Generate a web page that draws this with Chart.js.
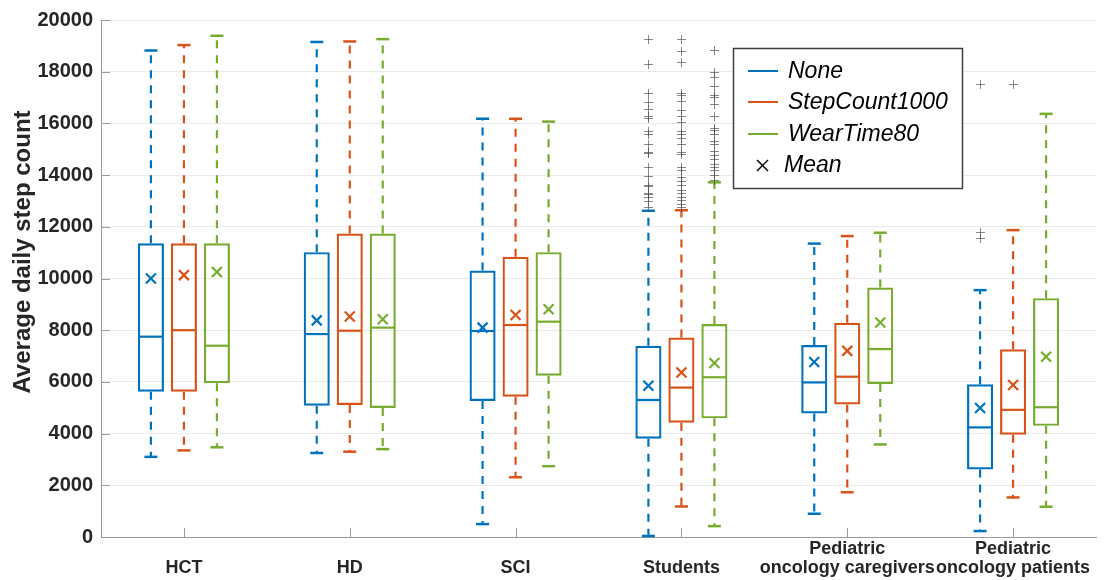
<!DOCTYPE html>
<html>
<head>
<meta charset="utf-8">
<title>Average daily step count by cohort</title>
<script src="https://cdn.jsdelivr.net/npm/chart.js@4.4.1/dist/chart.umd.min.js"></script>
<style>
  html, body { margin: 0; padding: 0; background: #ffffff; }
  #wrap { width: 1108px; height: 580px; }
</style>
</head>
<body>
<div id="wrap"><canvas id="chart" width="1108" height="580"></canvas></div>
<script>
// Cohorts on the x axis (two-line labels are bottom aligned)
const categories = [
  ['', 'HCT'],
  ['', 'HD'],
  ['', 'SCI'],
  ['', 'Students'],
  ['Pediatric', 'oncology caregivers'],
  ['Pediatric', 'oncology patients']
];
const seriesNames = ['None', 'StepCount1000', 'WearTime80'];
const yTicks = [0, 2000, 4000, 6000, 8000, 10000, 12000, 14000, 16000, 18000, 20000];
const yTitle = 'Average daily step count';

// None filter
const noneLow    = [3100, 3250, 500, 40, 900, 230];
const noneQ1     = [5620, 5080, 5260, 3800, 4780, 2610];
const noneMedian = [7750, 7850, 7970, 5300, 5980, 4240];
const noneQ3     = [11360, 11020, 10310, 7400, 7430, 5910];
const noneHigh   = [18820, 19150, 16180, 12620, 11350, 9550];
const noneMean   = [10000, 8380, 8100, 5850, 6770, 4990];
const noneOutliers = [[], [], [],
  [19250, 18290, 17160, 16820, 16560, 16290, 16200, 15710, 15600, 15200, 14900, 14850,
   14310, 13950, 13620, 13570, 13310, 13250, 13160, 12980, 12780],
  [], [17530, 11790, 11570]];

// StepCount1000 filter
const stepLow    = [3350, 3300, 2310, 1180, 1730, 1530];
const stepQ1     = [5620, 5110, 5430, 4420, 5130, 3960];
const stepMedian = [8000, 7980, 8200, 5780, 6200, 4920];
const stepQ3     = [11360, 11740, 10840, 7720, 8290, 7260];
const stepHigh   = [19030, 19170, 16180, 12640, 11640, 11870];
const stepMean   = [10130, 8530, 8590, 6360, 7200, 5880];
const stepOutliers = [[], [], [],
  [19250, 18800, 18380, 17160, 17100, 16880, 16520, 16300, 16050, 15710, 15600, 15430,
   15200, 14900, 14810, 14310, 14210, 13920, 13760, 13620, 13440, 13310, 13160, 13030,
   12890, 12770],
  [], [17530]];

// WearTime80 filter
const wearLow    = [3470, 3400, 2740, 420, 3580, 1170];
const wearQ1     = [5950, 4990, 6240, 4590, 5920, 4300];
const wearMedian = [7400, 8100, 8330, 6180, 7270, 5020];
const wearQ3     = [11360, 11740, 11020, 8240, 9650, 9240];
const wearHigh   = [19390, 19260, 16070, 13720, 11770, 16370];
const wearMean   = [10250, 8420, 8810, 6730, 8300, 6970];
const wearOutliers = [[], [], [],
  [18830, 18000, 17810, 17460, 17100, 17010, 16750, 16290, 15840, 15730, 15600, 15330,
   15200, 14920, 14790, 14630, 14440, 14310, 14180, 13990, 13800],
  [], []];

const colors = ['#0072BD', '#D95319', '#77AC30'];
const FONT = "'Liberation Sans', Arial, Helvetica, sans-serif";
const TEXT = '#262626';
const AXIS = '#9a9a9a';

const series = [
  { low: noneLow, q1: noneQ1, med: noneMedian, q3: noneQ3, high: noneHigh, mean: noneMean, out: noneOutliers },
  { low: stepLow, q1: stepQ1, med: stepMedian, q3: stepQ3, high: stepHigh, mean: stepMean, out: stepOutliers },
  { low: wearLow, q1: wearQ1, med: wearMedian, q3: wearQ3, high: wearHigh, mean: wearMean, out: wearOutliers }
];

function seg(ctx, x1, y1, x2, y2) {
  ctx.beginPath(); ctx.moveTo(x1, y1); ctx.lineTo(x2, y2); ctx.stroke();
}

// Inward tick marks on both axes, plus the rotated y-axis title
const axisTicks = {
  id: 'axisTicks',
  afterDraw(chart) {
    const { ctx, chartArea: a, scales: { x, y } } = chart;
    ctx.save();
    ctx.strokeStyle = AXIS; ctx.lineWidth = 1;
    yTicks.forEach(v => {
      const py = Math.round(y.getPixelForValue(v)) + 0.5;
      seg(ctx, a.left, py, a.left + 9, py);
    });
    categories.forEach((c, i) => {
      const px = Math.round(x.getPixelForValue(i)) + 0.5;
      seg(ctx, px, a.bottom, px, a.bottom - 9);
    });
    ctx.translate(23, 252);
    ctx.rotate(-Math.PI / 2);
    ctx.font = 'bold 24px ' + FONT;
    ctx.fillStyle = TEXT;
    ctx.textAlign = 'center';
    ctx.textBaseline = 'middle';
    ctx.fillText(yTitle, 0, 0);
    ctx.restore();
  }
};

// Whiskers, medians, means and outliers on top of the box bars
const boxDetails = {
  id: 'boxDetails',
  afterDatasetsDraw(chart) {
    const { ctx, scales: { y } } = chart;
    series.forEach((s, d) => {
      const meta = chart.getDatasetMeta(d);
      meta.data.forEach((bar, i) => {
        const x = bar.x, w = bar.width;
        const py = v => y.getPixelForValue(v);
        ctx.save();
        ctx.strokeStyle = colors[d];
        ctx.lineWidth = 2.2;
        ctx.setLineDash([8, 7]);
        seg(ctx, x, py(s.q3[i]), x, py(s.high[i]));
        seg(ctx, x, py(s.q1[i]), x, py(s.low[i]));
        ctx.setLineDash([]);
        ctx.lineWidth = 2.5;
        seg(ctx, x - 6.5, py(s.high[i]), x + 6.5, py(s.high[i]));
        seg(ctx, x - 6.5, py(s.low[i]), x + 6.5, py(s.low[i]));
        ctx.lineWidth = 2.2;
        seg(ctx, x - w / 2 + 1, py(s.med[i]), x + w / 2 - 1, py(s.med[i]));
        // mean marker
        const my = py(s.mean[i]);
        ctx.lineWidth = 2.2;
        seg(ctx, x - 5, my - 5, x + 5, my + 5);
        seg(ctx, x - 5, my + 5, x + 5, my - 5);
        // outliers
        ctx.strokeStyle = 'rgba(70,70,70,0.65)';
        ctx.lineWidth = 1;
        s.out[i].forEach(v => {
          const oy = Math.round(py(v)) + 0.5, ox = Math.round(x) + 0.5;
          seg(ctx, ox - 4.5, oy, ox + 4.5, oy);
          seg(ctx, ox, oy - 4.5, ox, oy + 4.5);
        });
        ctx.restore();
      });
    });
  }
};

// Legend box inside the plot
const legendBox = {
  id: 'legendBox',
  afterDraw(chart) {
    const ctx = chart.ctx;
    ctx.save();
    ctx.fillStyle = '#ffffff';
    ctx.fillRect(733, 48, 230, 141);
    ctx.strokeStyle = '#404040'; ctx.lineWidth = 1.5;
    ctx.strokeRect(733.5, 48.5, 229, 140);
    ctx.font = 'italic 23px ' + FONT;
    ctx.textBaseline = 'middle';
    ctx.fillStyle = '#000000';
    const rows = [71, 102, 134];
    seriesNames.forEach((n, k) => {
      ctx.strokeStyle = colors[k]; ctx.lineWidth = 2;
      seg(ctx, 748, rows[k], 778, rows[k]);
      ctx.fillText(n, 788, rows[k] + 1);
    });
    ctx.strokeStyle = '#000000'; ctx.lineWidth = 1.4;
    seg(ctx, 757, 160, 768, 171);
    seg(ctx, 757, 171, 768, 160);
    ctx.fillText('Mean', 784, 166);
    ctx.restore();
  }
};

const datasets = series.map((s, d) => ({
  label: seriesNames[d],
  data: s.q1.map((v, i) => [v, s.q3[i]]),
  backgroundColor: 'rgba(255,255,255,0)',
  borderColor: colors[d],
  borderWidth: 2.2,
  borderSkipped: false,
  categoryPercentage: 0.597,
  barPercentage: 0.79
}));

new Chart(document.getElementById('chart'), {
  type: 'bar',
  data: { labels: categories, datasets },
  options: {
    responsive: false,
    animation: false,
    layout: { padding: { left: 0, right: 12, top: 18, bottom: 0 } },
    plugins: { legend: { display: false }, tooltip: { enabled: false } },
    scales: {
      x: {
        grid: { display: false, drawTicks: false },
        border: { display: true, color: AXIS, width: 1 },
        ticks: {
          autoSkip: false, maxRotation: 0, minRotation: 0, padding: 3,
          color: TEXT,
          font: { family: FONT, size: 18, weight: 'bold', lineHeight: 1.05 }
        },
        afterFit(scale) { scale.height = 43; }
      },
      y: {
        min: 0, max: 20000,
        afterBuildTicks(scale) { scale.ticks = yTicks.map(v => ({ value: v })); },
        grid: { color: '#ebebeb', lineWidth: 1, drawTicks: false },
        border: { display: true, color: AXIS, width: 1 },
        ticks: {
          padding: 8, color: TEXT,
          callback: v => String(v),
          font: { family: FONT, size: 20, weight: 'bold' }
        },
        afterFit(scale) { scale.width = 101; }
      }
    }
  },
  plugins: [axisTicks, boxDetails, legendBox]
});
</script>
</body>
</html>
